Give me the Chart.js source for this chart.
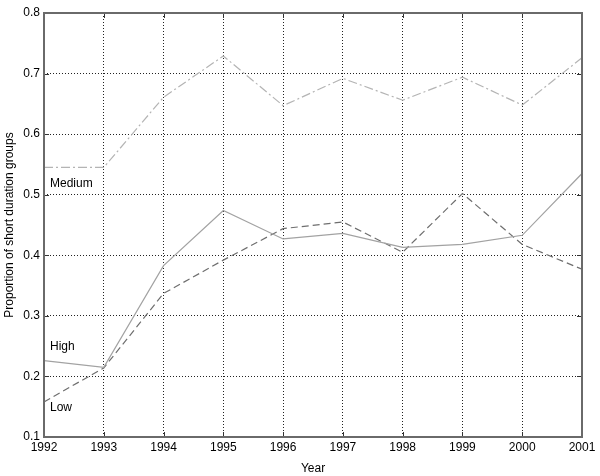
<!DOCTYPE html>
<html>
<head>
<meta charset="utf-8">
<script src="https://cdn.jsdelivr.net/npm/chart.js@4"></script>
<style>
  html, body { margin: 0; padding: 0; background: #fff; }
  #wrap { width: 600px; height: 476px; position: relative; }
</style>
</head>
<body>
<div id="wrap"><canvas id="chart"></canvas></div>
<script>
// anos e séries
const years = [1992, 1993, 1994, 1995, 1996, 1997, 1998, 1999, 2000, 2001];
const medium = [0.545, 0.545, 0.661, 0.729, 0.647, 0.692, 0.656, 0.694, 0.648, 0.726];
const high = [0.226, 0.215, 0.383, 0.474, 0.427, 0.436, 0.413, 0.418, 0.433, 0.535];
const low = [0.158, 0.214, 0.337, 0.392, 0.444, 0.455, 0.405, 0.502, 0.418, 0.377];
const yTicks = [0.1, 0.2, 0.3, 0.4, 0.5, 0.6, 0.7, 0.8];

// rótulos das curvas (posição em coordenadas dos dados)
const seriesLabels = [
  { text: 'Medium', x: 1992.1, y: 0.519 },
  { text: 'High', x: 1992.1, y: 0.249 },
  { text: 'Low', x: 1992.1, y: 0.149 }
];

const toPoints = arr => arr.map((v, i) => ({ x: years[i], y: v }));
const FONT = '"Liberation Sans", Arial, sans-serif';

// moldura, marcas internas e rótulos
const framePlugin = {
  id: 'frame',
  afterDraw(chart) {
    const { ctx, chartArea: a, scales } = chart;
    ctx.save();
    ctx.strokeStyle = '#333';
    ctx.lineWidth = 1;
    years.forEach(y => {
      const px = Math.round(scales.x.getPixelForValue(y)) + 0.5;
      ctx.beginPath();
      ctx.moveTo(px, a.top); ctx.lineTo(px, a.top + 5);
      ctx.moveTo(px, a.bottom); ctx.lineTo(px, a.bottom - 5);
      ctx.stroke();
    });
    yTicks.forEach(v => {
      const py = Math.round(scales.y.getPixelForValue(v)) + 0.5;
      ctx.beginPath();
      ctx.moveTo(a.left, py); ctx.lineTo(a.left + 5, py);
      ctx.moveTo(a.right, py); ctx.lineTo(a.right - 5, py);
      ctx.stroke();
    });
    ctx.strokeStyle = '#6a6a6a';
    ctx.lineWidth = 2;
    ctx.strokeRect(a.left, a.top, a.right - a.left, a.bottom - a.top);

    ctx.fillStyle = '#000';
    ctx.font = '12px ' + FONT;
    ctx.textBaseline = 'middle';
    ctx.textAlign = 'left';
    seriesLabels.forEach(l => {
      ctx.fillText(l.text, scales.x.getPixelForValue(l.x), scales.y.getPixelForValue(l.y));
    });
    ctx.restore();
  }
};

const ctx = document.getElementById('chart').getContext('2d');
new Chart(ctx, {
  type: 'line',
  data: {
    datasets: [
      {
        label: 'Medium',
        data: toPoints(medium),
        borderColor: '#b4b4b4',
        borderWidth: 1.2,
        borderDash: [9, 3, 2, 3],
        pointRadius: 0,
        tension: 0
      },
      {
        label: 'High',
        data: toPoints(high),
        borderColor: '#a2a2a2',
        borderWidth: 1.2,
        pointRadius: 0,
        tension: 0
      },
      {
        label: 'Low',
        data: toPoints(low),
        borderColor: '#6e6e6e',
        borderWidth: 1.2,
        borderDash: [7, 4],
        pointRadius: 0,
        tension: 0
      }
    ]
  },
  options: {
    responsive: true,
    maintainAspectRatio: false,
    animation: false,
    layout: { padding: { top: 13, right: 18, left: 2, bottom: 0 } },
    plugins: {
      legend: { display: false },
      tooltip: { enabled: false }
    },
    scales: {
      x: {
        type: 'linear',
        min: 1992,
        max: 2001,
        afterBuildTicks: axis => { axis.ticks = years.map(v => ({ value: v })); },
        afterFit: axis => { axis.height = 39; },
        ticks: {
          color: '#000',
          font: { family: FONT, size: 12 },
          padding: 3,
          maxRotation: 0,
          callback: v => String(v)
        },
        grid: {
          color: '#222',
          lineWidth: 1,
          drawTicks: false
        },
        border: { display: false, dash: [1, 2] },
        title: {
          display: true,
          text: 'Year',
          color: '#000',
          font: { family: FONT, size: 12 },
          padding: { top: 0, bottom: 0 }
        }
      },
      y: {
        min: 0.1,
        max: 0.8,
        afterBuildTicks: axis => { axis.ticks = yTicks.map(v => ({ value: v })); },
        afterFit: axis => { axis.width = 42; },
        ticks: {
          color: '#000',
          font: { family: FONT, size: 12 },
          padding: 4,
          callback: v => v.toFixed(1)
        },
        grid: {
          color: '#222',
          lineWidth: 1,
          drawTicks: false
        },
        border: { display: false, dash: [1, 2] },
        title: {
          display: true,
          text: 'Proportion of short duration groups',
          color: '#000',
          font: { family: FONT, size: 12 },
          padding: { top: 0, bottom: 0 }
        }
      }
    }
  },
  plugins: [framePlugin]
});
</script>
</body>
</html>
